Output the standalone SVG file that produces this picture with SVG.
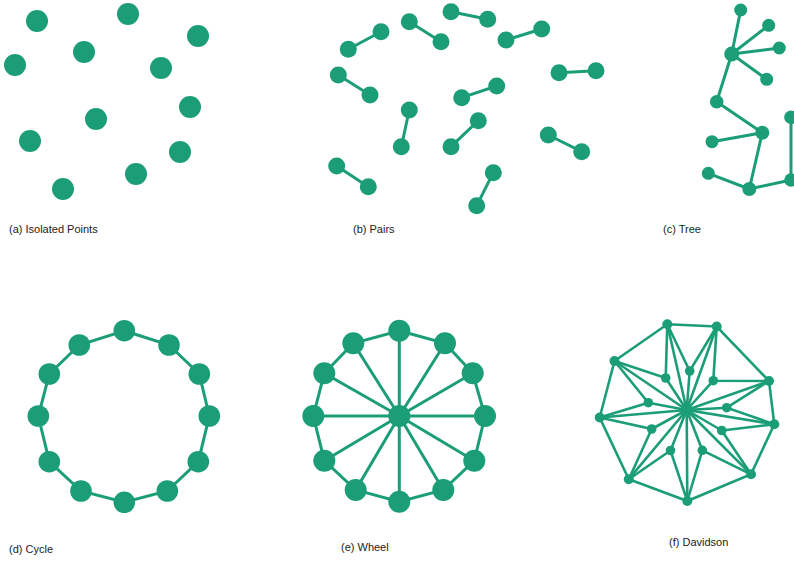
<svg xmlns="http://www.w3.org/2000/svg" width="794" height="562" viewBox="0 0 794 562">
<style>
  .n { fill: #1b9e77; }
  .e { stroke: #1b9e77; stroke-width: 3; stroke-linecap: round; fill: none; }
  .ed { stroke: #1b9e77; stroke-width: 2.6; stroke-linecap: round; fill: none; }
  .lbl { font-family: "Liberation Sans", Arial, sans-serif; font-size: 11px; fill: #222; }
</style>
<rect width="794" height="562" fill="#ffffff"/>

<!-- connectors -->
<g id="connectors">
  <!-- (b) pairs -->
  <g id="pairs-edges" class="e">
    <line x1="348.3" y1="49.3" x2="381" y2="31.7"/>
    <line x1="409.3" y1="21.7" x2="441" y2="41.7"/>
    <line x1="451" y1="11.7" x2="487.7" y2="19.3"/>
    <line x1="506" y1="40" x2="541.7" y2="29"/>
    <line x1="338.3" y1="75" x2="370" y2="95"/>
    <line x1="559" y1="72.7" x2="596" y2="70.7"/>
    <line x1="461.7" y1="97.7" x2="496.7" y2="86"/>
    <line x1="409.3" y1="110" x2="401.3" y2="146.7"/>
    <line x1="478.3" y1="120.7" x2="451" y2="146.7"/>
    <line x1="548.3" y1="135" x2="581.7" y2="151.7"/>
    <line x1="336.7" y1="166" x2="368.3" y2="186.7"/>
    <line x1="493.3" y1="172.7" x2="476.7" y2="205.7"/>
  </g>
  <!-- (c) tree -->
  <g id="tree-edges" class="e">
    <line x1="731.7" y1="54" x2="740.7" y2="10"/>
    <line x1="731.7" y1="54" x2="768.7" y2="25.3"/>
    <line x1="731.7" y1="54" x2="779.3" y2="48"/>
    <line x1="731.7" y1="54" x2="766.7" y2="79.3"/>
    <line x1="731.7" y1="54" x2="716.7" y2="101.7"/>
    <line x1="716.7" y1="101.7" x2="762.3" y2="132.7"/>
    <line x1="762.3" y1="132.7" x2="712" y2="141.7"/>
    <line x1="762.3" y1="132.7" x2="749.3" y2="189"/>
    <line x1="708.3" y1="173.3" x2="749.3" y2="189"/>
    <line x1="749.3" y1="189" x2="791" y2="180"/>
    <line x1="791" y1="180" x2="791" y2="117.3"/>
  </g>
  <!-- (d) cycle -->
  <polygon id="cycle-edges" class="e" points="124.3,330.7 169,345 199.3,374 209.3,416 198.3,461.7 167.3,491 124.3,502.3 81,491 49.3,461.7 38.3,416 49.3,374 79.3,345"/>
  <!-- (e) wheel -->
  <g id="wheel-edges" class="e">
    <polygon points="399.3,330.7 445,343.3 472.7,373.3 485,416 474.3,460.7 443.3,490 399.3,501.7 355.7,490 324.3,460.7 313.3,416 324.3,373.3 353.3,343.3"/>
    <line x1="399.3" y1="416" x2="399.3" y2="330.7"/>
    <line x1="399.3" y1="416" x2="445" y2="343.3"/>
    <line x1="399.3" y1="416" x2="472.7" y2="373.3"/>
    <line x1="399.3" y1="416" x2="485" y2="416"/>
    <line x1="399.3" y1="416" x2="474.3" y2="460.7"/>
    <line x1="399.3" y1="416" x2="443.3" y2="490"/>
    <line x1="399.3" y1="416" x2="399.3" y2="501.7"/>
    <line x1="399.3" y1="416" x2="355.7" y2="490"/>
    <line x1="399.3" y1="416" x2="324.3" y2="460.7"/>
    <line x1="399.3" y1="416" x2="313.3" y2="416"/>
    <line x1="399.3" y1="416" x2="324.3" y2="373.3"/>
    <line x1="399.3" y1="416" x2="353.3" y2="343.3"/>
  </g>
  <!-- (f) Davidson -->
  <g id="davidson-edges" class="ed">
    <polygon points="667.3,324.3 716.7,326.5 769,381 774.3,424.3 751,474.3 687.3,501 628.8,479.2 599.7,417.5 614.5,361"/>
    <!-- outer to center -->
    <line x1="686.7" y1="410" x2="667.3" y2="324.3"/>
    <line x1="686.7" y1="410" x2="716.7" y2="326.5"/>
    <line x1="686.7" y1="410" x2="769" y2="381"/>
    <line x1="686.7" y1="410" x2="774.3" y2="424.3"/>
    <line x1="686.7" y1="410" x2="751" y2="474.3"/>
    <line x1="686.7" y1="410" x2="687.3" y2="501"/>
    <line x1="686.7" y1="410" x2="628.8" y2="479.2"/>
    <line x1="686.7" y1="410" x2="599.7" y2="417.5"/>
    <line x1="686.7" y1="410" x2="614.5" y2="361"/>
    <!-- inner to center -->
    <line x1="686.7" y1="410" x2="665.7" y2="378"/>
    <line x1="686.7" y1="410" x2="689.7" y2="371"/>
    <line x1="686.7" y1="410" x2="713.3" y2="380.7"/>
    <line x1="686.7" y1="410" x2="726.7" y2="407.7"/>
    <line x1="686.7" y1="410" x2="721.7" y2="430.5"/>
    <line x1="686.7" y1="410" x2="702.3" y2="450.3"/>
    <line x1="686.7" y1="410" x2="670.5" y2="450.5"/>
    <line x1="686.7" y1="410" x2="651.7" y2="429"/>
    <line x1="686.7" y1="410" x2="648.3" y2="402.7"/>
    <!-- inner to outer -->
    <polyline points="614.5,361 665.7,378 667.3,324.3"/>
    <polyline points="667.3,324.3 689.7,371 716.7,326.5"/>
    <polyline points="716.7,326.5 713.3,380.7 769,381"/>
    <polyline points="769,381 726.7,407.7 774.3,424.3"/>
    <polyline points="774.3,424.3 721.7,430.5 751,474.3"/>
    <polyline points="751,474.3 702.3,450.3 687.3,501"/>
    <polyline points="687.3,501 670.5,450.5 628.8,479.2"/>
    <polyline points="628.8,479.2 651.7,429 599.7,417.5"/>
    <polyline points="599.7,417.5 648.3,402.7 614.5,361"/>
  </g>
</g>

<!-- (a) Isolated points -->
<g id="isolated">
  <g id="a1"><circle class="n" cx="37" cy="21" r="11"/></g>
  <g id="a2"><circle class="n" cx="128" cy="14" r="11"/></g>
  <g id="a3"><circle class="n" cx="198" cy="36" r="11"/></g>
  <g id="a4"><circle class="n" cx="84" cy="52" r="11"/></g>
  <g id="a5"><circle class="n" cx="15" cy="65" r="11"/></g>
  <g id="a6"><circle class="n" cx="161" cy="68" r="11"/></g>
  <g id="a7"><circle class="n" cx="190" cy="107" r="11"/></g>
  <g id="a8"><circle class="n" cx="96" cy="119" r="11"/></g>
  <g id="a9"><circle class="n" cx="30" cy="141" r="11"/></g>
  <g id="a10"><circle class="n" cx="180" cy="152" r="11"/></g>
  <g id="a11"><circle class="n" cx="136" cy="174" r="11"/></g>
  <g id="a12"><circle class="n" cx="63" cy="189" r="11"/></g>
</g>

<!-- (b) Pairs -->
<g id="pairs">
  <g id="b1"><circle class="n" cx="348.3" cy="49.3" r="8.5"/></g>
  <g id="b2"><circle class="n" cx="381" cy="31.7" r="8.5"/></g>
  <g id="b3"><circle class="n" cx="409.3" cy="21.7" r="8.5"/></g>
  <g id="b4"><circle class="n" cx="441" cy="41.7" r="8.5"/></g>
  <g id="b5"><circle class="n" cx="451" cy="11.7" r="8.5"/></g>
  <g id="b6"><circle class="n" cx="487.7" cy="19.3" r="8.5"/></g>
  <g id="b7"><circle class="n" cx="506" cy="40" r="8.5"/></g>
  <g id="b8"><circle class="n" cx="541.7" cy="29" r="8.5"/></g>
  <g id="b9"><circle class="n" cx="338.3" cy="75" r="8.5"/></g>
  <g id="b10"><circle class="n" cx="370" cy="95" r="8.5"/></g>
  <g id="b11"><circle class="n" cx="559" cy="72.7" r="8.5"/></g>
  <g id="b12"><circle class="n" cx="596" cy="70.7" r="8.5"/></g>
  <g id="b13"><circle class="n" cx="461.7" cy="97.7" r="8.5"/></g>
  <g id="b14"><circle class="n" cx="496.7" cy="86" r="8.5"/></g>
  <g id="b15"><circle class="n" cx="409.3" cy="110" r="8.5"/></g>
  <g id="b16"><circle class="n" cx="401.3" cy="146.7" r="8.5"/></g>
  <g id="b17"><circle class="n" cx="478.3" cy="120.7" r="8.5"/></g>
  <g id="b18"><circle class="n" cx="451" cy="146.7" r="8.5"/></g>
  <g id="b19"><circle class="n" cx="548.3" cy="135" r="8.5"/></g>
  <g id="b20"><circle class="n" cx="581.7" cy="151.7" r="8.5"/></g>
  <g id="b21"><circle class="n" cx="336.7" cy="166" r="8.5"/></g>
  <g id="b22"><circle class="n" cx="368.3" cy="186.7" r="8.5"/></g>
  <g id="b23"><circle class="n" cx="493.3" cy="172.7" r="8.5"/></g>
  <g id="b24"><circle class="n" cx="476.7" cy="205.7" r="8.5"/></g>
</g>

<!-- (c) Tree -->
<g id="tree">
  <g id="t1"><circle class="n" cx="740.7" cy="10" r="6.5"/></g>
  <g id="t2"><circle class="n" cx="768.7" cy="25.3" r="6.5"/></g>
  <g id="t3"><circle class="n" cx="779.3" cy="48" r="6.5"/></g>
  <g id="t4"><circle class="n" cx="766.7" cy="79.3" r="6.5"/></g>
  <g id="t5"><circle class="n" cx="731.7" cy="54" r="7.5"/></g>
  <g id="t6"><circle class="n" cx="716.7" cy="101.7" r="6.8"/></g>
  <g id="t7"><circle class="n" cx="762.3" cy="132.7" r="7"/></g>
  <g id="t8"><circle class="n" cx="712" cy="141.7" r="6.5"/></g>
  <g id="t9"><circle class="n" cx="708.3" cy="173.3" r="6.5"/></g>
  <g id="t10"><circle class="n" cx="749.3" cy="189" r="7"/></g>
  <g id="t11"><circle class="n" cx="791" cy="180" r="6.8"/></g>
  <g id="t12"><circle class="n" cx="791" cy="117.3" r="6.8"/></g>
</g>

<!-- (d) Cycle -->
<g id="cycle">
  <g id="c0"><circle class="n" cx="124.3" cy="330.7" r="10.8"/></g>
  <g id="c1"><circle class="n" cx="169" cy="345" r="10.8"/></g>
  <g id="c2"><circle class="n" cx="199.3" cy="374" r="10.8"/></g>
  <g id="c3"><circle class="n" cx="209.3" cy="416" r="10.8"/></g>
  <g id="c4"><circle class="n" cx="198.3" cy="461.7" r="10.8"/></g>
  <g id="c5"><circle class="n" cx="167.3" cy="491" r="10.8"/></g>
  <g id="c6"><circle class="n" cx="124.3" cy="502.3" r="10.8"/></g>
  <g id="c7"><circle class="n" cx="81" cy="491" r="10.8"/></g>
  <g id="c8"><circle class="n" cx="49.3" cy="461.7" r="10.8"/></g>
  <g id="c9"><circle class="n" cx="38.3" cy="416" r="10.8"/></g>
  <g id="c10"><circle class="n" cx="49.3" cy="374" r="10.8"/></g>
  <g id="c11"><circle class="n" cx="79.3" cy="345" r="10.8"/></g>
</g>

<!-- (e) Wheel -->
<g id="wheel">
  <g id="w0"><circle class="n" cx="399.3" cy="330.7" r="11"/></g>
  <g id="w1"><circle class="n" cx="445" cy="343.3" r="11"/></g>
  <g id="w2"><circle class="n" cx="472.7" cy="373.3" r="11"/></g>
  <g id="w3"><circle class="n" cx="485" cy="416" r="11"/></g>
  <g id="w4"><circle class="n" cx="474.3" cy="460.7" r="11"/></g>
  <g id="w5"><circle class="n" cx="443.3" cy="490" r="11"/></g>
  <g id="w6"><circle class="n" cx="399.3" cy="501.7" r="11"/></g>
  <g id="w7"><circle class="n" cx="355.7" cy="490" r="11"/></g>
  <g id="w8"><circle class="n" cx="324.3" cy="460.7" r="11"/></g>
  <g id="w9"><circle class="n" cx="313.3" cy="416" r="11"/></g>
  <g id="w10"><circle class="n" cx="324.3" cy="373.3" r="11"/></g>
  <g id="w11"><circle class="n" cx="353.3" cy="343.3" r="11"/></g>
  <g id="wc"><circle class="n" cx="399.3" cy="416" r="11"/></g>
</g>

<!-- (f) Davidson -->
<g id="davidson">
  <g id="o1"><circle class="n" cx="667.3" cy="324.3" r="5"/></g>
  <g id="o2"><circle class="n" cx="716.7" cy="326.5" r="5"/></g>
  <g id="o3"><circle class="n" cx="769" cy="381" r="5"/></g>
  <g id="o4"><circle class="n" cx="774.3" cy="424.3" r="5"/></g>
  <g id="o5"><circle class="n" cx="751" cy="474.3" r="5"/></g>
  <g id="o6"><circle class="n" cx="687.3" cy="501" r="5"/></g>
  <g id="o7"><circle class="n" cx="628.8" cy="479.2" r="5"/></g>
  <g id="o8"><circle class="n" cx="599.7" cy="417.5" r="5"/></g>
  <g id="o9"><circle class="n" cx="614.5" cy="361" r="5"/></g>
  <g id="i1"><circle class="n" cx="665.7" cy="378" r="4.8"/></g>
  <g id="i2"><circle class="n" cx="689.7" cy="371" r="4.8"/></g>
  <g id="i3"><circle class="n" cx="713.3" cy="380.7" r="4.8"/></g>
  <g id="i4"><circle class="n" cx="726.7" cy="407.7" r="4.8"/></g>
  <g id="i5"><circle class="n" cx="721.7" cy="430.5" r="4.8"/></g>
  <g id="i6"><circle class="n" cx="702.3" cy="450.3" r="4.8"/></g>
  <g id="i7"><circle class="n" cx="670.5" cy="450.5" r="4.8"/></g>
  <g id="i8"><circle class="n" cx="651.7" cy="429" r="4.8"/></g>
  <g id="i9"><circle class="n" cx="648.3" cy="402.7" r="4.8"/></g>
  <g id="dc"><circle class="n" cx="686.7" cy="410" r="6"/></g>
</g>

<!-- labels -->
<g id="labels">
  <text class="lbl" x="9" y="233">(a) Isolated Points</text>
  <text class="lbl" x="353" y="233">(b) Pairs</text>
  <text class="lbl" x="663" y="233">(c) Tree</text>
  <text class="lbl" x="9" y="553">(d) Cycle</text>
  <text class="lbl" x="341" y="551">(e) Wheel</text>
  <text class="lbl" x="669" y="546">(f) Davidson</text>
</g>
</svg>
